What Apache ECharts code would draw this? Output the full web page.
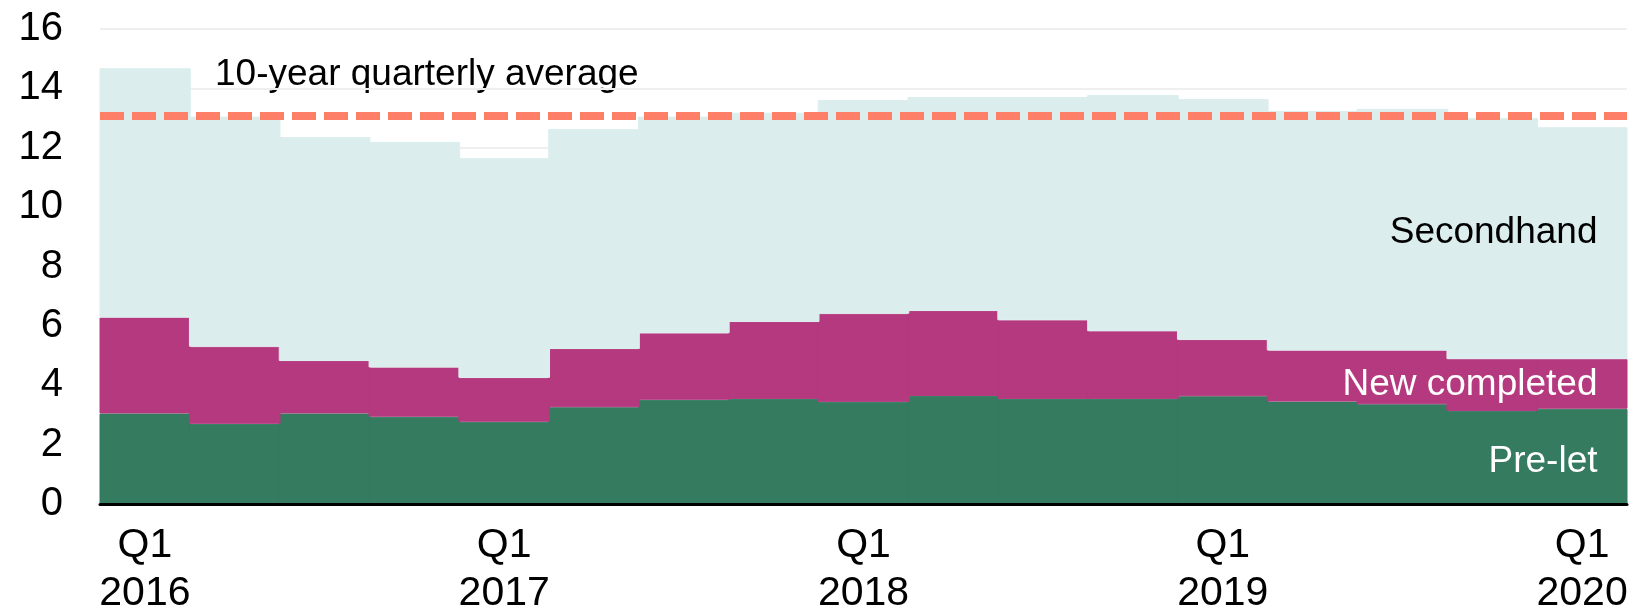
<!DOCTYPE html>
<html>
<head>
<meta charset="utf-8">
<script src="https://cdn.jsdelivr.net/npm/echarts@6/dist/echarts.min.js"></script>
<style>
  html, body { margin: 0; padding: 0; background: #fff; }
  #chart { width: 1633px; height: 615px; }
</style>
</head>
<body>
<div id="chart"></div>
<script>
// quarters Q1 2016 .. Q1 2020
const quarters = [
  'Q1 2016', 'Q2 2016', 'Q3 2016', 'Q4 2016',
  'Q1 2017', 'Q2 2017', 'Q3 2017', 'Q4 2017',
  'Q1 2018', 'Q2 2018', 'Q3 2018', 'Q4 2018',
  'Q1 2019', 'Q2 2019', 'Q3 2019', 'Q4 2019',
  'Q1 2020'
];
const preLet = [3.05, 2.70, 3.05, 2.94, 2.77, 3.26, 3.51, 3.54, 3.44, 3.64, 3.54, 3.54, 3.63, 3.45, 3.36, 3.13, 3.21];
const newCompleted = [3.23, 2.60, 1.77, 1.66, 1.48, 1.96, 2.24, 2.59, 2.97, 2.86, 2.65, 2.28, 1.90, 1.72, 1.81, 1.75, 1.67];
const secondhand = [8.40, 7.75, 7.54, 7.60, 7.40, 7.41, 7.30, 7.05, 7.20, 7.21, 7.52, 7.96, 8.11, 8.07, 8.14, 8.12, 7.81];
const tenYearAverage = 13.07;
const yTicks = { min: 0, max: 16, interval: 2 };

const FONT = '"Liberation Sans", Arial, sans-serif';

// put the series name as a label on the last bar only
const withEndLabel = (values, text, color, offsetY) => {
  return values.map((v, i) => {
    if (i !== values.length - 1) return v;
    return {
      value: v,
      label: {
        show: true,
        position: 'insideRight',
        distance: 30,
        offset: [0, offsetY],
        formatter: text,
        color,
        fontFamily: FONT,
        fontSize: 37
      }
    };
  });
};

const chart = echarts.init(document.getElementById('chart'));

const barStyle = (color) => ({ color, borderColor: color, borderWidth: 1 });

const common = {
  type: 'bar',
  stack: 'total',
  // slightly wider than the band so neighbouring steps don't show seams
  barWidth: '102%',
  barGap: 0,
  silent: true,
  emphasis: { disabled: true }
};

chart.setOption({
  backgroundColor: '#ffffff',
  animation: false,
  grid: { left: 100, right: 6, top: 29, bottom: 111, outerBoundsMode: 'none' },
  xAxis: {
    type: 'category',
    data: quarters,
    z: 10,
    axisLine: { lineStyle: { color: '#000', width: 3 } },
    axisTick: { show: false },
    axisLabel: {
      interval: 3,
      margin: 18,
      color: '#000',
      fontFamily: FONT,
      fontSize: 41,
      lineHeight: 48,
      formatter: (v) => v.replace(' ', '\n')
    }
  },
  yAxis: {
    type: 'value',
    min: yTicks.min,
    max: yTicks.max,
    interval: yTicks.interval,
    axisLine: { show: false },
    axisTick: { show: false },
    axisLabel: {
      margin: 37,
      color: '#000',
      fontFamily: FONT,
      fontSize: 40
    },
    splitLine: { lineStyle: { color: '#efefef', width: 2 } }
  },
  graphic: [
    {
      type: 'text',
      left: 215,
      top: 56,
      style: {
        text: '10-year quarterly average',
        fill: '#000',
        font: '37px ' + FONT
      }
    }
  ],
  series: [
    {
      ...common,
      name: 'Pre-let',
      itemStyle: barStyle('#357b60'),
      data: withEndLabel(preLet, 'Pre-let', '#fff', 5)
    },
    {
      ...common,
      name: 'New completed',
      itemStyle: barStyle('#b5397f'),
      data: withEndLabel(newCompleted, 'New completed', '#fff', 1)
    },
    {
      ...common,
      name: 'Secondhand',
      itemStyle: barStyle('#dbeeed'),
      data: withEndLabel(secondhand, 'Secondhand', '#000', -10),
      markLine: {
        silent: true,
        symbol: 'none',
        label: { show: false },
        lineStyle: { color: '#fe7f68', type: [24, 8], width: 8 },
        data: [{ yAxis: tenYearAverage }]
      }
    }
  ]
});
</script>
</body>
</html>
